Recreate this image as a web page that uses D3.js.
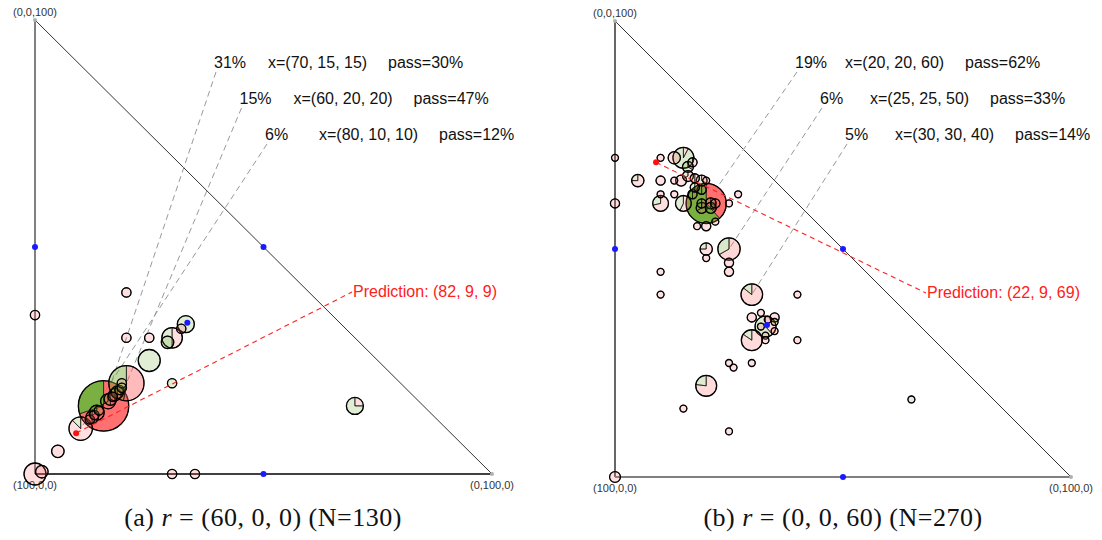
<!DOCTYPE html>
<html>
<head>
<meta charset="utf-8">
<script src="https://cdn.jsdelivr.net/npm/d3@7"></script>
<style>
  html, body { margin: 0; padding: 0; background: #fff; }
  svg { display: block; }
  text { white-space: pre; }
</style>
</head>
<body>
<svg id="chart" width="1102" height="540"></svg>
<script>
// ---------- Panel (a): r = (60, 0, 0) ----------
const aTitle = ["(a) ", "r", " = (60, 0, 0) (N=130)"];
const aTotal = 130;
const aPrediction = [82, 9, 9];
// compositions (a, b, c) of each observed answer
const aPoints = [
  [70, 15, 15], [60, 20, 20], [80, 10, 10], [100, 0, 0], [98, 1.5, 0.5],
  [90, 5, 5], [65, 0, 35], [40, 20, 40], [50, 20, 30], [45, 25, 30],
  [50, 25, 25], [40, 30, 30], [34, 33, 33], [36, 32, 32], [42, 29, 29],
  [50, 30, 20], [15, 70, 15], [70, 30, 0], [65, 35, 0],
  [76, 12, 12], [75, 12.5, 12.5], [74, 13, 13], [73, 13.5, 13.5], [72, 14, 14],
  [68, 16, 16], [67, 16.5, 16.5], [66, 17, 17], [65, 17.5, 17.5], [64, 18, 18],
  [63, 18.5, 18.5], [61, 19, 20], [62, 19, 19]
];
const aCounts = [
  40, 19, 8, 7, 2,
  2, 1, 1, 1, 1,
  7, 6, 4, 1, 2,
  1, 4, 1, 1,
  1, 2, 1, 3, 1,
  3, 2, 1, 2, 2,
  1, 1, 1
];
const aPasses = [
  12, 9, 1, 0, 0,
  0, 0, 0, 0, 0,
  7, 3, 4, 0, 2,
  1, 3, 0, 0,
  0, 1, 0, 1, 1,
  1, 1, 0, 1, 1,
  1, 0, 1
];

// ---------- Panel (b): r = (0, 0, 60) ----------
const bTitle = ["(b) ", "r", " = (0, 0, 60) (N=270)"];
const bTotal = 270;
const bPrediction = [22, 9, 69];
const bPoints = [
  [20, 20, 60], [25, 25, 50], [30, 30, 40], [34, 33, 33], [40, 30, 30],
  [60, 20, 20], [15, 15, 70], [30, 10, 60], [25, 15, 60], [30, 20, 50],
  [30, 5, 65], [17, 13, 70], [100, 0, 0], [20.5, 14.5, 65], [40, 0, 60],
  [25, 10, 65], [28, 25, 47], [30, 25, 45], [35, 30, 35], [30, 35, 35],
  [18, 65, 17], [30, 0, 70], [20, 10, 70], [22, 13, 65], [28, 10, 62],
  [25, 13, 62], [15, 25, 60], [11, 27, 62],
  [16, 16, 68], [18, 16, 66], [17, 17.5, 65.5], [16, 19, 65], [18, 19, 63],
  [15, 20, 65], [21, 17, 62], [14, 17, 69], [19, 17.5, 63.5],
  [19, 21, 60], [22, 19, 59], [18, 22, 60], [20, 21, 59], [21, 19, 60],
  [27, 18, 55], [25, 20, 55], [22, 22, 56], [32, 20, 48], [45, 10, 45],
  [50, 10, 40], [20, 40, 40], [32, 32, 36],
  [35, 32, 33], [31, 35, 34], [33, 35, 32], [36, 33, 31], [32, 33.5, 34.5],
  [37, 33, 30], [30, 40, 30], [50, 25, 25], [50, 26, 24], [45, 30, 25],
  [70, 15, 15], [65, 25, 10]
];
const bCounts = [
  52, 15, 14, 13, 13,
  13, 13, 7, 7, 4,
  4, 4, 3, 3, 2,
  2, 2, 2, 2, 2,
  1, 1, 1, 1, 1,
  1, 1, 1,
  3, 3, 2, 3, 2,
  1, 2, 2, 2,
  3, 3, 2, 3, 2,
  1, 2, 1, 1, 1,
  1, 1, 1,
  1, 1, 1, 1, 1,
  1, 1, 1, 1, 1,
  1, 1
];
const bPasses = [
  32, 5, 2, 8, 2,
  3, 12, 2, 3, 1,
  1, 0, 0, 0, 0,
  0, 0, 0, 0, 0,
  1, 0, 0, 0, 0,
  0, 0, 0,
  2, 1, 1, 2, 1,
  0, 1, 1, 1,
  2, 1, 1, 2, 1,
  0, 0, 0, 0, 0,
  0, 0, 0,
  0, 1, 0, 0, 0,
  0, 0, 0, 0, 0,
  0, 0
];

// shared reference marks
const cornerLabels = ["(100,0,0)", "(0,100,0)", "(0,0,100)"];
const markerPoints = [[50, 50, 0], [50, 0, 50], [0, 50, 50], [100 / 3, 100 / 3, 100 / 3]];

// ---------- drawing ----------
const svg = d3.select("#chart");
const GREEN = "rgb(108,166,44)";
const RED = "rgb(255,96,96)";
const SANS = "'Liberation Sans', Arial, sans-serif";

function roundHalfEven(v) {
  const f = Math.floor(v), d = v - f;
  if (Math.abs(d - 0.5) < 1e-9) return f % 2 === 0 ? f : f + 1;
  return Math.round(v);
}

function drawPanel(cfg) {
  const g = svg.append("g");
  // b runs left -> right, c runs bottom -> top
  const xs = d3.scaleLinear().domain([0, 100]).range([cfg.x0, cfg.x0 + cfg.w]);
  const ys = d3.scaleLinear().domain([0, 100]).range([cfg.y0, cfg.y0 - cfg.h]);
  const px = p => xs(p[1]);
  const py = p => ys(p[2]);

  const A = [100, 0, 0], B = [0, 100, 0], C = [0, 0, 100];

  // triangle edges
  const edge = (p, q, st) => g.append("line")
    .attr("x1", px(p)).attr("y1", py(p)).attr("x2", px(q)).attr("y2", py(q))
    .attr("stroke", st.color).attr("stroke-width", st.width);
  edge(A, C, cfg.leftEdge);
  edge(A, B, cfg.bottomEdge);
  edge(B, C, { color: "#333", width: 1 });

  // vertex dots
  [B, C].forEach(p => g.append("circle").attr("cx", px(p)).attr("cy", py(p))
    .attr("r", 2).attr("fill", "#b0b0b0"));

  // vertex labels
  const lbl = (p, txt, dy) => g.append("text")
    .attr("x", px(p)).attr("y", py(p) + dy).attr("text-anchor", "middle")
    .attr("font-family", SANS).attr("font-size", 11).attr("fill", "#333").text(txt);
  lbl(A, cornerLabels[0], 15);
  lbl(B, cornerLabels[1], 15);
  lbl(C, cornerLabels[2], -4);

  const data = cfg.points.map((p, i) => ({
    p, n: cfg.counts[i], pass: cfg.passes[i]
  }));
  const nMax = d3.max(data, d => d.n);
  // bubble area follows the share of answers
  const rScale = d3.scaleSqrt().domain([0, 100]).range([0.8, 44.8]);
  const rad = d => rScale(100 * d.n / cfg.total);

  // annotations for the three largest groups
  const top = data.slice().sort((u, v) => v.n - u.n).slice(0, 3);
  top.forEach((d, k) => {
    const tx = cfg.annX + k * cfg.annDx;
    const ty = cfg.annY + k * cfg.annDy;
    g.append("line")
      .attr("x1", tx + 2).attr("y1", ty + 4)
      .attr("x2", px(d.p)).attr("y2", py(d.p))
      .attr("stroke", "#999").attr("stroke-width", 1).attr("stroke-dasharray", "6,4");
    const pct = roundHalfEven(100 * d.n / cfg.total);
    const pr = roundHalfEven(100 * d.pass / d.n);
    const parts = [`${pct}%`, `x=(${d.p.join(", ")})`, `pass=${pr}%`];
    parts.forEach((s, j) => g.append("text")
      .attr("x", tx + cfg.annCols[j]).attr("y", ty)
      .attr("font-family", SANS).attr("font-size", 16).attr("fill", "#111").text(s));
  });

  // pie bubbles, largest first
  const arc = d3.arc().innerRadius(0);
  const bubbles = g.append("g");
  data.slice().sort((u, v) => v.n - u.n).forEach(d => {
    const r = rad(d);
    const frac = d.pass / d.n;
    const op = Math.max(0.2, 0.9 * d.n / nMax);
    const bg = bubbles.append("g").attr("transform", `translate(${px(d.p)},${py(d.p)})`);
    const split = (1 - frac) * 2 * Math.PI;
    if (frac < 1) bg.append("path")
      .attr("d", arc({ outerRadius: r, startAngle: 0, endAngle: split }))
      .attr("fill", RED).attr("fill-opacity", op)
      .attr("stroke", "#000").attr("stroke-width", 0.6);
    if (frac > 0) bg.append("path")
      .attr("d", arc({ outerRadius: r, startAngle: split, endAngle: 2 * Math.PI }))
      .attr("fill", GREEN).attr("fill-opacity", op)
      .attr("stroke", "#000").attr("stroke-width", 0.6);
    bg.append("circle").attr("r", r).attr("fill", "none")
      .attr("stroke", "#000").attr("stroke-width", 1.3);
  });

  // reference markers
  markerPoints.forEach(p => g.append("circle").attr("cx", px(p)).attr("cy", py(p))
    .attr("r", 3).attr("fill", "#1a1aff"));

  // prediction
  const pr = cfg.prediction;
  g.append("line")
    .attr("x1", px(pr)).attr("y1", py(pr))
    .attr("x2", cfg.predX - 1).attr("y2", cfg.predY - 5)
    .attr("stroke", "#ff2020").attr("stroke-width", 1.1).attr("stroke-dasharray", "5,4");
  g.append("circle").attr("cx", px(pr)).attr("cy", py(pr)).attr("r", 3).attr("fill", "#ff1010");
  g.append("text").attr("x", cfg.predX).attr("y", cfg.predY)
    .attr("font-family", SANS).attr("font-size", 16).attr("fill", "#ff2020")
    .text(`Prediction: (${pr.join(", ")})`);

  // caption
  const cap = g.append("text").attr("x", cfg.capX).attr("y", 526)
    .attr("text-anchor", "middle")
    .attr("font-family", "'Liberation Serif', 'Times New Roman', serif")
    .attr("font-size", 26).attr("letter-spacing", 0.5).attr("fill", "#111");
  cap.append("tspan").text(cfg.title[0]);
  cap.append("tspan").attr("font-style", "italic").text(cfg.title[1]);
  cap.append("tspan").text(cfg.title[2]);
}

drawPanel({
  x0: 35, y0: 474, w: 457, h: 454,
  points: aPoints, counts: aCounts, passes: aPasses, total: aTotal,
  prediction: aPrediction, title: aTitle,
  leftEdge: { color: "#808080", width: 2 }, bottomEdge: { color: "#000", width: 1.3 },
  annX: 214, annY: 68, annDx: 25.5, annDy: 36, annCols: [0, 54, 174],
  predX: 353, predY: 297, capX: 263
});

drawPanel({
  x0: 615, y0: 477, w: 456, h: 456,
  points: bPoints, counts: bCounts, passes: bPasses, total: bTotal,
  prediction: bPrediction, title: bTitle,
  leftEdge: { color: "#000", width: 1.2 }, bottomEdge: { color: "#808080", width: 2 },
  annX: 795, annY: 68, annDx: 25, annDy: 36, annCols: [0, 50, 170],
  predX: 927, predY: 298, capX: 843
});
</script>
</body>
</html>
